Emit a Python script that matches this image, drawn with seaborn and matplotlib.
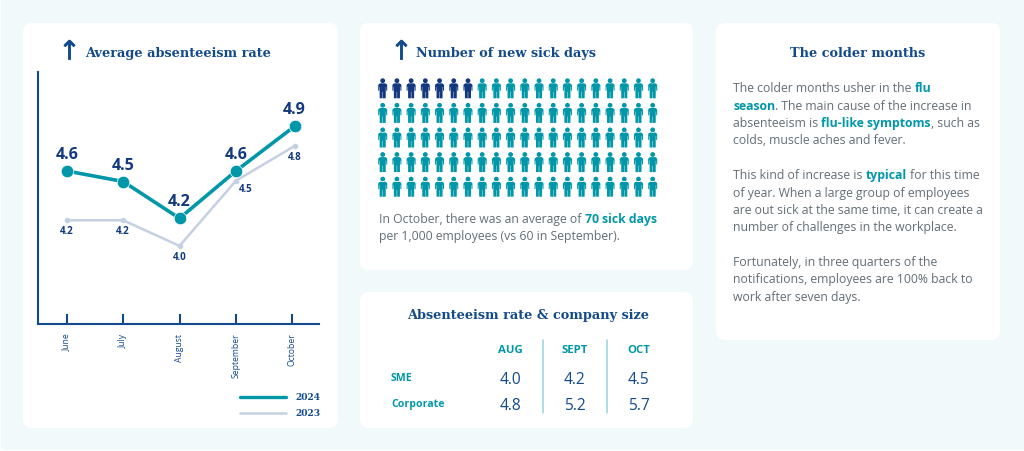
import numpy as np
import pandas as pd
import matplotlib
matplotlib.use("Agg")
import matplotlib.pyplot as plt
import matplotlib.patheffects as pe
import seaborn as sns
from matplotlib.lines import Line2D
from matplotlib.markers import MarkerStyle
from matplotlib.patches import FancyBboxPatch
from matplotlib.path import Path
from matplotlib.transforms import Affine2D

months = ["June", "July", "August", "September", "October"]
month_pos = [0, 1, 2, 3, 4.04]
rate_2024 = [4.56, 4.48, 4.20, 4.56, 4.90]
rate_2023 = [4.185, 4.185, 3.99, 4.486, 4.75]
labels_2024 = ["4.6", "4.5", "4.2", "4.6", "4.9"]
labels_2023 = ["4.2", "4.2", "4.0", "4.5", "4.8"]
sick_icons_total = 100
sick_icons_dark = 7
table_cols = ["AUG", "SEPT", "OCT"]
table_rows = ["SME", "Corporate"]
table_vals = [["4.0", "4.2", "4.5"], ["4.8", "5.2", "5.7"]]

W, H = 1024, 451
BG = "#F1F9FB"
TEAL = "#0097A9"
NAVY = "#12397F"
BLUE = "#124A8C"
GREY = "#636E76"
PALE = "#C6D0E3"
SANS = "Open Sans"
SLAB = "DejaVu Serif"

sns.set_theme(style="white")
plt.rcParams["font.family"] = [SANS, "DejaVu Sans"]
fig = plt.figure(figsize=(W / 100, H / 100), dpi=100, facecolor="white")
T = Affine2D().scale(1, -1).translate(0, H)


def rect(l, t, r, b):
    return [l / W, 1 - b / H, (r - l) / W, (b - t) / H]


def txt(x, y, s, **kw):
    kw.setdefault("va", "baseline")
    return fig.text(x, y, s, transform=T, **kw)


def rich(x, y, parts, size):
    r = fig.canvas.get_renderer()
    for s, bold in parts:
        kw = dict(fontsize=size, color=TEAL if bold else GREY, fontweight="bold" if bold else "normal")
        a = fig.text(0, 0, "a a", **kw)
        b = fig.text(0, 0, "aa", **kw)
        space = a.get_window_extent(r).width - b.get_window_extent(r).width
        a.remove()
        b.remove()
        if s.startswith(" "):
            x += space
        t = txt(x, y, s.strip(), **kw)
        x += t.get_window_extent(r).width
        if s.endswith(" "):
            x += space


def card(l, t, r, b, color, rad, z):
    fig.add_artist(FancyBboxPatch((l + rad, t + rad), r - l - 2 * rad, b - t - 2 * rad,
                                  boxstyle=f"round,pad={rad},rounding_size={rad}",
                                  transform=T, fc=color, ec="none", zorder=z))


card(1, -20, 1050, 450, BG, 6, -2)
for l, t, r, b in [(23, 23, 338, 428), (360, 23, 693, 270), (360, 292, 693, 428), (716, 23, 1000, 340)]:
    card(l, t, r, b, "white", 9, -1)

# line chart
ax = fig.add_axes(rect(38, 72, 319, 324), facecolor="none")
df = pd.DataFrame({"pos": month_pos, "y24": rate_2024, "y23": rate_2023})
sns.lineplot(data=df, x="pos", y="y23", ax=ax, color=PALE, linewidth=1.8, marker="o", markersize=4, markeredgewidth=0)
sns.lineplot(data=df, x="pos", y="y24", ax=ax, color=TEAL, linewidth=2.6, marker="o", markersize=9,
             markeredgecolor="white", markeredgewidth=0.5)
ax.set_xlim(-0.509, 4.473)
ax.set_ylim(3.396, 5.313)
ax.set_xlabel("")
ax.set_ylabel("")
ax.set_yticks([])
ax.set_xticks(range(len(months)))
ax.set_xticklabels(months, rotation=90, fontsize=6.2, color=BLUE)
ax.tick_params(axis="x", direction="in", length=7.2, width=1.5, color=BLUE, pad=7, bottom=True)
for s in ["top", "right"]:
    ax.spines[s].set_visible(False)
for s in ["left", "bottom"]:
    ax.spines[s].set_color(BLUE)
    ax.spines[s].set_linewidth(1.5)
for x, y, s in zip(month_pos, rate_2024, labels_2024):
    ax.annotate(s, (x, y), xytext=(0, 11.5), textcoords="offset points", ha="center", va="center",
                fontsize=11.6, fontweight="bold", color=NAVY)
offs = [(0, -8), (0, -8), (0, -8), (7, -6), (0, -8)]
for x, y, s, o in zip(month_pos, rate_2023, labels_2023, offs):
    ax.annotate(s, (x, y), xytext=o, textcoords="offset points", ha="center", va="center",
                fontsize=7, fontweight="bold", color=NAVY)
handles = [Line2D([], [], color=TEAL, lw=2.4), Line2D([], [], color=PALE, lw=1.8)]
leg = ax.legend(handles, ["2024", "2023"], frameon=False, loc="center left", fontsize=6.6, handlelength=5,
                handletextpad=1.0, labelspacing=0.75, borderpad=0, borderaxespad=0)
leg.set_bbox_to_anchor((240, H - 405.5), transform=Affine2D())
for t in leg.get_texts():
    t.set_color(BLUE)
    t.set_fontfamily(SLAB)
    t.set_fontweight("bold")

# pictogram
ay = fig.add_axes(rect(375, 75, 660, 200), facecolor="none")
idx = np.arange(sick_icons_total)
people = pd.DataFrame({"col": idx % 20, "row": idx // 20, "dark": idx < sick_icons_dark})
body = [(-2.6, 5), (2.6, 5), (4.2, 3.9), (4.5, 3), (4.5, -2.4), (3.5, -2.4), (3.4, 1.5), (3.1, 1.5), (3.0, -10),
        (0.2, -10), (0.2, -3.5), (-0.2, -3.5), (-0.2, -10), (-3.0, -10), (-3.1, 1.5), (-3.4, 1.5), (-3.5, -2.4),
        (-4.5, -2.4), (-4.5, 3), (-4.2, 3.9), (-2.6, 5)]
head = Path.circle((0, 7.6), 2.4)
person = Path.make_compound_path(head, Path(body, closed=True))
sns.scatterplot(data=people, x="col", y="row", hue="dark", palette={True: NAVY, False: TEAL}, ax=ay,
                marker=MarkerStyle(person), s=207, linewidth=0, legend=False)
ay.set_xlim((375 - 382.7) / 14.21, (660 - 382.7) / 14.21)
ay.set_ylim((200 - 88.3) / 24.6, (75 - 88.3) / 24.6)
ay.axis("off")

# titles
for x, y in [(69.5, 59.5), (401.5, 59.5)]:
    txt(x, y, "↑", fontsize=19, color=BLUE, ha="center", family="DejaVu Sans",
        path_effects=[pe.withStroke(linewidth=0.5, foreground=BLUE)])
ts = dict(fontfamily=SLAB, fontweight="bold", color=BLUE)
txt(85, 57, "Average absenteeism rate", fontsize=9.3, **ts)
txt(416, 57, "Number of new sick days", fontsize=9.3, **ts)
txt(858, 57, "The colder months", fontsize=9.3, ha="center", **ts)
txt(527.7, 319, "Absenteeism rate & company size", fontsize=9.3, ha="center", **ts)

# body text
B = 8.85
rich(379, 222.7, [("In October, there was an average of ", 0), ("70 sick days", 1)], B)
rich(379, 240, [("per 1,000 employees (vs 60 in September).", 0)], B)
body_lines = [
    (92, [("The colder months usher in the ", 0), ("flu", 1)]),
    (109.5, [("season", 1), (". The main cause of the increase in", 0)]),
    (127, [("absenteeism is ", 0), ("flu-like symptoms", 1), (", such as", 0)]),
    (144, [("colds, muscle aches and fever.", 0)]),
    (179, [("This kind of increase is ", 0), ("typical", 1), (" for this time", 0)]),
    (196.5, [("of year. When a large group of employees", 0)]),
    (214, [("are out sick at the same time, it can create a", 0)]),
    (231.5, [("number of challenges in the workplace.", 0)]),
    (266, [("Fortunately, in three quarters of the", 0)]),
    (283.5, [("notifications, employees are 100% back to", 0)]),
    (301, [("work after seven days.", 0)]),
]
for y, parts in body_lines:
    rich(733, y, parts, B)

# table
col_x = [510, 575, 639]
for x, s in zip(col_x, table_cols):
    txt(x, 353, s, ha="center", fontsize=8.2, fontweight="bold", color=TEAL)
for y, name, vals in zip([383.5, 410], table_rows, table_vals):
    txt(391, y - 2.5, name, fontsize=7.6, fontweight="bold", color=TEAL)
    for x, v in zip(col_x, vals):
        txt(x, y, v, ha="center", fontsize=11.2, color=BLUE)
for x in [543.3, 606.7]:
    fig.add_artist(Line2D([x, x], [340, 412.5], transform=T, color="#9AD3DB", lw=1.1))

fig.savefig("out.png", dpi=100)
